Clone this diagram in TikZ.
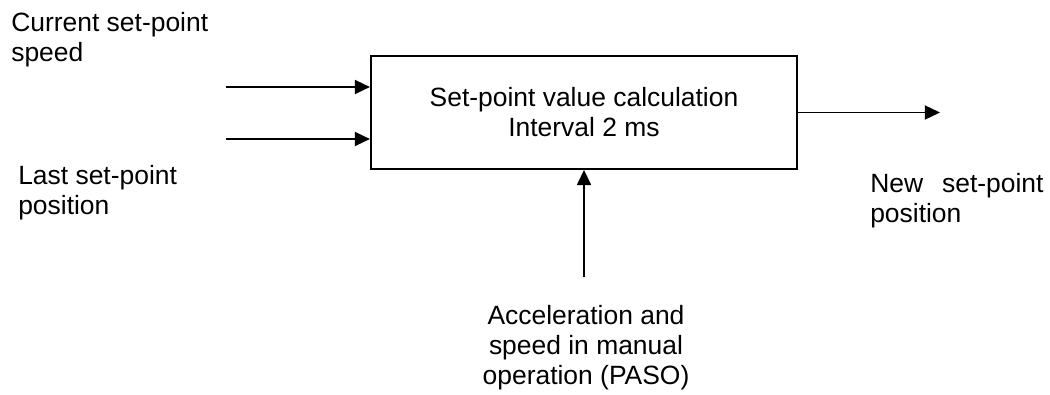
\documentclass[tikz,border=0pt]{standalone}
\usepackage{fontspec}
\setmainfont{Liberation Sans}
\usepackage{tikz}
\usetikzlibrary{positioning, arrows.meta}
\tikzset{
    block/.style={
        draw, line width = 1.4pt,
        minimum width = 10.65cm,
        minimum height = 2.82cm,
        align = center
    },
    label/.style = {inner sep = 0pt, align = left},
    every node/.style = {font = \fontsize{18.8pt}{21.3pt}\selectfont},
    line/.style = {line width = 1.4pt, -{Triangle[length=0.38cm, width=0.35cm]}}
}
\begin{document}
\begin{tikzpicture}[x = 0.025cm, y = -0.025cm]

    \useasboundingbox (0,0) rectangle (1050,394);

    \node[block] (calc) at (584,112.5) {Set-point value calculation\\Interval 2 ms};

    \coordinate (speed) at (226,87);
    \coordinate (pos) at (226,139);
    \coordinate (new) at (940,112.5);
    \coordinate (paso) at (584,277);

    \node[label, anchor = north west] (speedtxt) at (11,12) {Current set-point\\speed};
    \node[label, anchor = north west] (postxt) at (18,165) {Last set-point\\position};
    \node[label, anchor = north west, text width = 4.33cm] (newtxt) at (870,173) {New\hfill set-point\\position};
    \node[label, anchor = north, align = center] (pasotxt) at (586,305) {Acceleration and\\speed in manual\\operation (PASO)};

    \draw[line] (speed) -- (speed -| calc.west);
    \draw[line] (pos) -- (pos -| calc.west);
    \draw[line] (calc.east) -- (new);
    \draw[line] (paso) -- (calc.south);

\end{tikzpicture}
\end{document}
